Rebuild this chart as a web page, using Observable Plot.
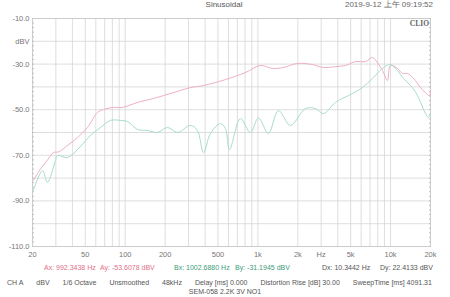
<!DOCTYPE html>
<html><head><meta charset="utf-8">
<script src="https://cdn.jsdelivr.net/npm/d3@7"></script>
<script src="https://cdn.jsdelivr.net/npm/@observablehq/plot@0.6"></script>
<style>
html,body{margin:0;padding:0;background:#fff;}
#wrap{position:relative;width:450px;height:297px;overflow:hidden;font-family:"Liberation Sans",Arial,sans-serif;color:#666;}
#wrap svg{position:absolute;left:0;top:0;}
.t{position:absolute;font-size:7px;white-space:pre;line-height:1;}
.row{position:absolute;display:flex;justify-content:space-between;font-size:7px;line-height:1;color:#555;white-space:pre;}
</style></head>
<body><div id="wrap"></div>
<script>
// Data
const pinkFreq = [20.3,23,26,28.8,31.4,36.7,43.7,51.9,61.8,68.6,81.5,95.3,124,163,231,310,389,569,806,1045,1288,1557,1987,2577,3120,3840,4570,5430,6460,7300,7960,8690,9470,9980,11270,12290,13400,15390,16790,18320,19640,20000];
const pinkDb   = [-81,-76,-72,-68.8,-68.5,-65.7,-62.2,-57.8,-51.2,-49.9,-49.0,-49.0,-46.8,-45.1,-42.5,-40.3,-39.4,-36.8,-33.7,-30.6,-31.9,-31.5,-29.7,-30.2,-31.5,-31.1,-30.6,-28.9,-28.9,-27.1,-29.3,-32.8,-37.2,-30.6,-31.9,-34.1,-34.1,-37.2,-40.3,-42.5,-43.8,-41.6];
const tealFreq = [20.3,23.8,25.9,29.8,30.9,36.7,43.7,54.7,65,77.4,92,104,124,147,175,208,248,310,350,389,439,522,569,611,739,879,1010,1200,1428,1758,2282,2716,3120,3840,4810,6140,7300,8690,9980,11270,12510,14620,16220,18320,19290,20000];
const tealDb   = [-85.4,-76.7,-81.9,-72.3,-70.1,-71.0,-67.5,-61.3,-57.8,-54.7,-54.7,-55.2,-58.7,-59.1,-60.0,-57.8,-60.0,-56.9,-59.1,-68.8,-60.4,-56.1,-58.2,-67.5,-53.9,-60.0,-53.6,-60.4,-50.4,-56.9,-49.5,-49.5,-51.7,-46.8,-43.8,-40.3,-36.3,-31.9,-30.2,-32.8,-36.3,-40.3,-44.6,-51.7,-53.4,-52];
const xGridTicks = [20,30,40,50,60,70,80,90,100,200,300,400,500,600,700,800,900,1000,2000,3000,4000,5000,6000,7000,8000,9000,10000,20000];
const xLabelValues = [20,50,100,200,500,1000,2000,3000,5000,10000,20000];
const xLabelTexts  = ["20","50","100","200","500","1k","2k","Hz","5k","10k","20k"];
const yTicks = [-10,-20,-30,-40,-50,-60,-70,-80,-90,-100,-110];
const yLabelValues = [-10,-20,-30,-50,-70,-90,-110];
const yLabelTexts  = ["-10.0","dBV","-30.0","-50.0","-70.0","-90.0","-110.0"];
const yMinor = d3.range(-110, -9, 2);

const pink = pinkFreq.map((f,i)=>({f, v:pinkDb[i]}));
const teal = tealFreq.map((f,i)=>({f, v:tealDb[i]}));
const xLabels = xLabelValues.map((f,i)=>({f, s:xLabelTexts[i]}));
const yLabels = yLabelValues.map((v,i)=>({v, s:yLabelTexts[i]}));

const W = 450, H = 297;
const chart = Plot.plot({
  width: W, height: H,
  marginLeft: 32, marginRight: 20, marginTop: 18, marginBottom: 51,
  style: {fontFamily: '"Liberation Sans", Arial, sans-serif', fontSize: "7.5px", color: "#666", background: "transparent"},
  x: {type: "log", domain: [20, 20000], axis: null},
  y: {domain: [-110, -10], axis: null},
  marks: [
    Plot.gridX(xGridTicks, {stroke: "#d6d6d6", strokeOpacity: 1, strokeWidth: 0.8}),
    Plot.gridY(yTicks, {stroke: "#d6d6d6", strokeOpacity: 1, strokeWidth: 0.8}),
    Plot.axisY(yMinor, {anchor: "left", tickSize: -2, tickFormat: () => "", stroke: "#bbb", label: null}),
    Plot.axisY(yMinor, {anchor: "right", tickSize: -2, tickFormat: () => "", stroke: "#bbb", label: null}),
    Plot.text(yLabels, {y: "v", text: "s", frameAnchor: "left", textAnchor: "end", dx: -3, fill: "#777", fontSize: 7.5}),
    Plot.text(xLabels, {x: "f", text: "s", frameAnchor: "bottom", lineAnchor: "top", dy: 5, fill: "#777", fontSize: 7.5}),
    Plot.frame({stroke: "#c8c8c8", strokeWidth: 0.8}),
    Plot.line(pink, {x: "f", y: "v", stroke: "#eeb0bf", strokeWidth: 1, curve: "catmull-rom"}),
    Plot.line(teal, {x: "f", y: "v", stroke: "#a8dccf", strokeWidth: 1, curve: "catmull-rom"})
  ]
});
const wrap = document.getElementById("wrap");
wrap.appendChild(chart);

function txt(s, x, y, opts = {}) {
  const d = document.createElement("div");
  d.className = "t";
  d.textContent = s;
  d.style.left = x + "px"; d.style.top = y + "px";
  Object.assign(d.style, opts);
  wrap.appendChild(d);
  return d;
}
txt("Sinusoidal", 224, 1, {transform: "translateX(-50%)", color: "#555", fontSize: "8px"});
txt("2019-9-12 上午 09:19:52", 433, 1, {transform: "translateX(-100%)", color: "#666", fontSize: "8px"});
txt("CLIO", 429, 20, {transform: "translateX(-100%)", color: "#666", fontFamily: '"Liberation Serif", serif', fontWeight: "bold", fontSize: "7.5px"});
txt("Ax: 992.3438 Hz", 44, 264, {color: "#e07088"});
txt("Ay: -53.6078 dBV", 100, 264, {color: "#e07088"});
txt("Bx: 1002.6880 Hz", 174, 264, {color: "#3c9c78"});
txt("By: -31.1945 dBV", 235, 264, {color: "#3c9c78"});
txt("Dx: 10.3442 Hz", 322, 264, {color: "#555"});
txt("Dy: 22.4133 dBV", 380, 264, {color: "#555"});

const footerItems = ["CH A","dBV","1/6 Octave","Unsmoothed","48kHz","Delay [ms] 0.000","Distortion Rise [dB] 30.00","SweepTime [ms] 4091.31"];
const row = document.createElement("div");
row.className = "row";
row.style.left = "7px"; row.style.width = "425px"; row.style.top = "279px";
footerItems.forEach(s => { const sp = document.createElement("span"); sp.textContent = s; row.appendChild(sp); });
wrap.appendChild(row);
txt("SEM-058 2.2K 3V NO1", 225, 288, {transform: "translateX(-50%)", color: "#555", fontSize: "7px"});
</script></body></html>
